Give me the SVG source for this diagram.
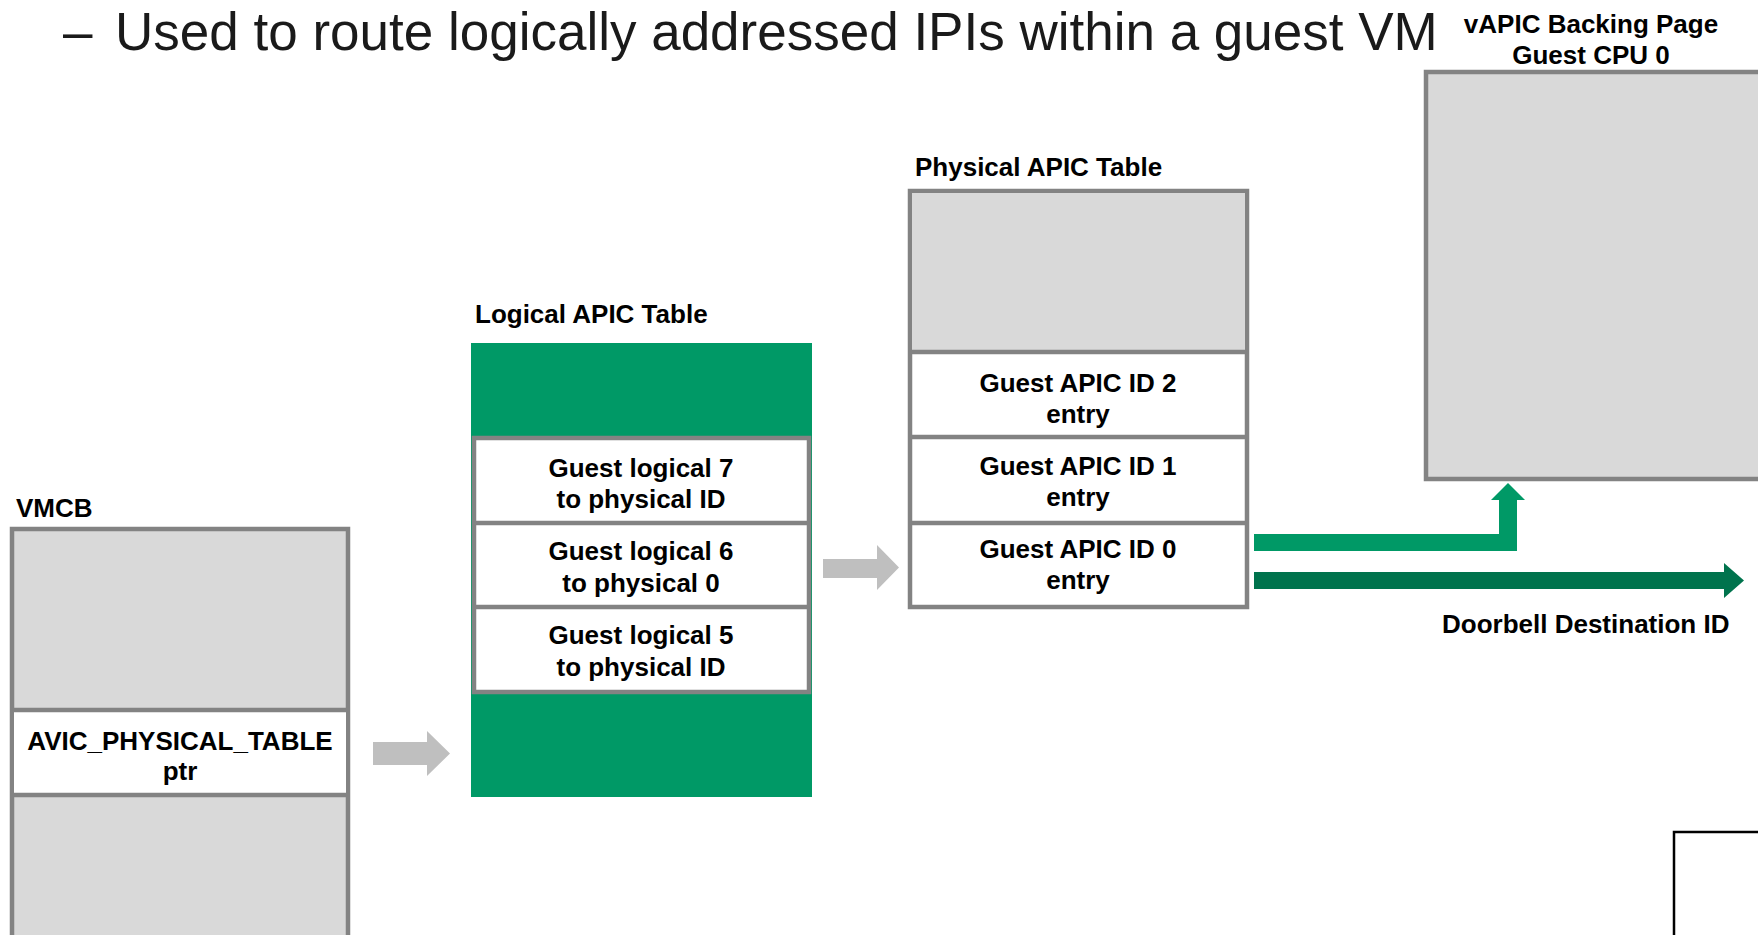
<svg xmlns="http://www.w3.org/2000/svg" width="1758" height="935" viewBox="0 0 1758 935">
<style>
.lbl{font-family:"Liberation Sans",Arial,sans-serif;font-weight:bold;font-size:26px;fill:#000}
.ctr{text-anchor:middle}
.title{font-family:"Liberation Sans",Arial,sans-serif;font-size:53px;fill:#1a1a1a}
.box{stroke:#838383;stroke-width:4.5}
.gray{fill:#d9d9d9}
.white{fill:#ffffff}
.div{stroke:#838383;stroke-width:4.5}
.garrow{fill:#bfbfbf}
.green{fill:#009966}
.dgreen{fill:#00734d}
</style>
<rect width="1758" height="935" fill="#ffffff"/>
<g id="title">
<text class="title" x="63" y="50">–<tspan x="115">Used to route logically addressed IPIs within a guest VM</tspan></text>
</g>
<g id="vmcb">
<text class="lbl" x="16" y="517">VMCB</text>
<rect class="box gray" x="12" y="529" width="336" height="450"/>
<rect class="white" x="14" y="710" width="332" height="85"/>
<line class="div" x1="12" y1="710" x2="348" y2="710"/>
<line class="div" x1="12" y1="795" x2="348" y2="795"/>
<text class="lbl ctr" x="180" y="750">AVIC_PHYSICAL_TABLE</text>
<text class="lbl ctr" x="180" y="780">ptr</text>
</g>
<g id="logical-apic-table">
<text class="lbl" x="475" y="323">Logical APIC Table</text>
<rect class="green" x="471" y="343" width="341" height="454"/>
<rect class="box white" x="474" y="438" width="335" height="254"/>
<line class="div" x1="474" y1="523" x2="809" y2="523"/>
<line class="div" x1="474" y1="607" x2="809" y2="607"/>
<text class="lbl ctr" x="641" y="477">Guest logical 7</text>
<text class="lbl ctr" x="641" y="508">to physical ID</text>
<text class="lbl ctr" x="641" y="560">Guest logical 6</text>
<text class="lbl ctr" x="641" y="592">to physical 0</text>
<text class="lbl ctr" x="641" y="644">Guest logical 5</text>
<text class="lbl ctr" x="641" y="676">to physical ID</text>
</g>
<g id="physical-apic-table">
<text class="lbl" x="915" y="176">Physical APIC Table</text>
<rect class="box white" x="910" y="191" width="337" height="416"/>
<rect class="gray" x="912" y="193" width="333" height="159"/>
<line class="div" x1="910" y1="352" x2="1247" y2="352"/>
<line class="div" x1="910" y1="437" x2="1247" y2="437"/>
<line class="div" x1="910" y1="523" x2="1247" y2="523"/>
<text class="lbl ctr" x="1078" y="392">Guest APIC ID 2</text>
<text class="lbl ctr" x="1078" y="423">entry</text>
<text class="lbl ctr" x="1078" y="475">Guest APIC ID 1</text>
<text class="lbl ctr" x="1078" y="506">entry</text>
<text class="lbl ctr" x="1078" y="558">Guest APIC ID 0</text>
<text class="lbl ctr" x="1078" y="589">entry</text>
</g>
<g id="vapic-backing-page">
<text class="lbl ctr" x="1591" y="33">vAPIC Backing Page</text>
<text class="lbl ctr" x="1591" y="64">Guest CPU 0</text>
<rect class="box gray" x="1426" y="72" width="400" height="407"/>
</g>
<g id="doorbell-label">
<text class="lbl" x="1442" y="633">Doorbell Destination ID</text>
</g>
<g id="corner-box">
<rect x="1674" y="832" width="120" height="140" fill="#ffffff" stroke="#000000" stroke-width="2.5"/>
</g>
<g id="connectors">
<polygon class="garrow" points="373,742 427,742 427,731 450,753.5 427,776 427,765 373,765"/>
<polygon class="garrow" points="823,559 877,559 877,545 899,567.5 877,590 877,578 823,578"/>
<polygon class="green" points="1254,534 1499,534 1499,500 1491,500 1508,483 1525,500 1517,500 1517,551 1254,551"/>
<polygon class="dgreen" points="1254,572 1724,572 1724,563 1744,580.5 1724,598 1724,589 1254,589"/>
</g>
</svg>
